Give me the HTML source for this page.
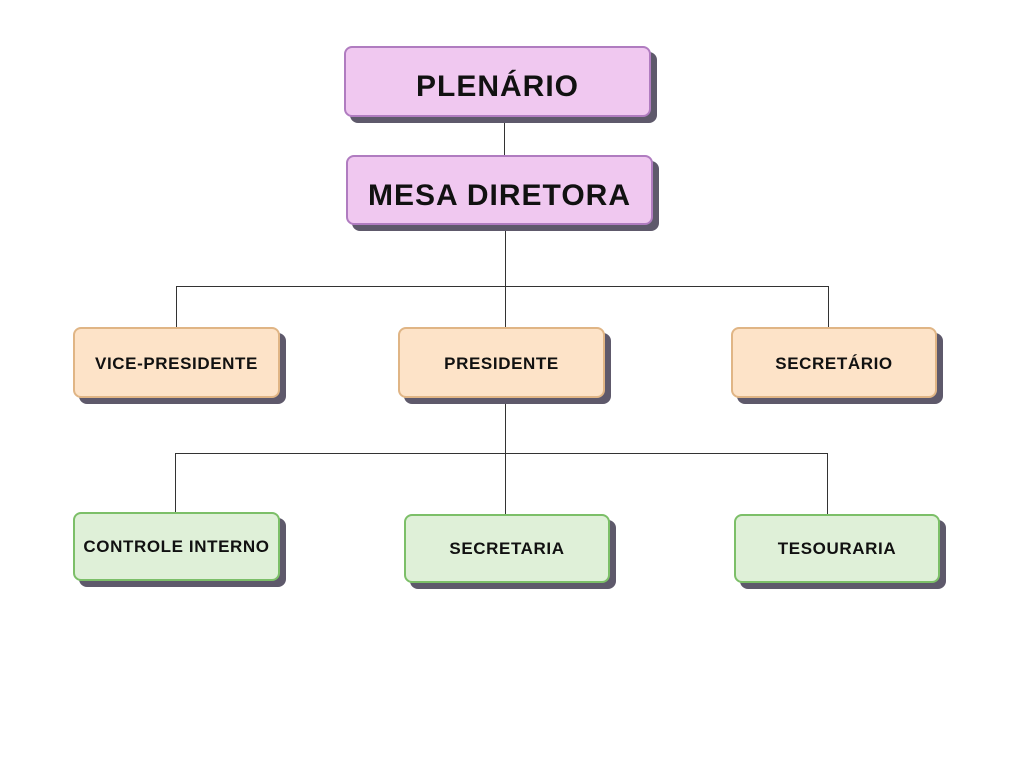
<!DOCTYPE html>
<html><head><style>
body{margin:0;width:1024px;height:768px;background:#fff;position:relative;font-family:"Liberation Sans",sans-serif;overflow:hidden}
.b{position:absolute;box-sizing:border-box;border-radius:8px;display:flex;align-items:center;justify-content:center;font-weight:bold;color:#111;box-shadow:6px 6px 0 #5e596b}
.p{background:#f0c8f0;border:2px solid #b07cc0;font-size:30px;padding-top:11px;letter-spacing:1px}
.o{background:#fde3c8;border:2px solid #e0b585;font-size:17px;letter-spacing:0.6px;padding-top:2px}
.g{background:#dff0d8;border:2px solid #7cbf68;font-size:17px;letter-spacing:0.6px;padding-top:1px}
.l{position:absolute;background:#333}
</style></head><body>
<div class="l" style="left:504px;top:117px;width:1px;height:38px"></div>
<div class="l" style="left:505px;top:225px;width:1px;height:102px"></div>
<div class="l" style="left:176px;top:286px;width:653px;height:1px"></div>
<div class="l" style="left:176px;top:286px;width:1px;height:41px"></div>
<div class="l" style="left:828px;top:286px;width:1px;height:41px"></div>
<div class="l" style="left:505px;top:398px;width:1px;height:116px"></div>
<div class="l" style="left:175px;top:453px;width:653px;height:1px"></div>
<div class="l" style="left:175px;top:453px;width:1px;height:59px"></div>
<div class="l" style="left:827px;top:453px;width:1px;height:61px"></div>
<div class="b p" style="left:344px;top:46px;width:307px;height:71px">PLENÁRIO</div>
<div class="b p" style="left:346px;top:155px;width:307px;height:70px">MESA DIRETORA</div>
<div class="b o" style="left:73px;top:327px;width:207px;height:71px">VICE-PRESIDENTE</div>
<div class="b o" style="left:398px;top:327px;width:207px;height:71px">PRESIDENTE</div>
<div class="b o" style="left:731px;top:327px;width:206px;height:71px">SECRETÁRIO</div>
<div class="b g" style="left:73px;top:512px;width:207px;height:69px">CONTROLE INTERNO</div>
<div class="b g" style="left:404px;top:514px;width:206px;height:69px">SECRETARIA</div>
<div class="b g" style="left:734px;top:514px;width:206px;height:69px">TESOURARIA</div>
</body></html>
